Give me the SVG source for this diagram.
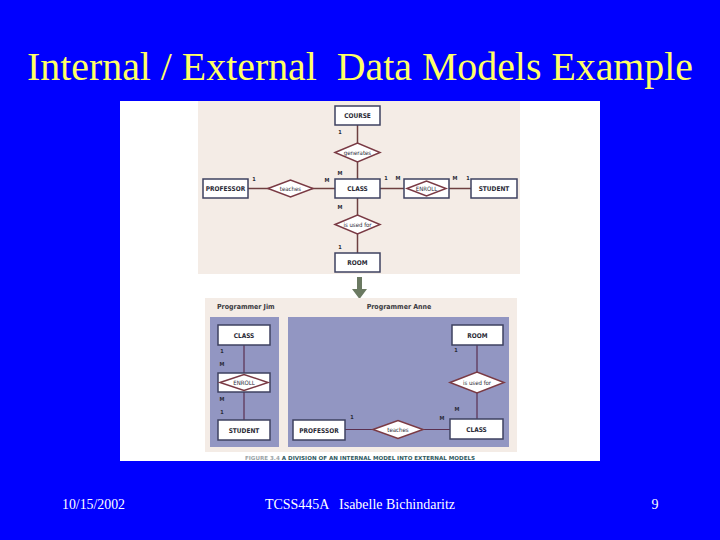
<svg xmlns="http://www.w3.org/2000/svg" width="720" height="540" viewBox="0 0 720 540">
<style>
.title{font-family:"Liberation Serif","Times New Roman",serif;font-size:40px;fill:#ffff66;white-space:pre}
.foot{font-family:"Liberation Serif","Times New Roman",serif;font-size:14px;fill:#ffffff;white-space:pre}
.box{fill:#ffffff;stroke:#3e4160;stroke-width:1.5}
.dia{fill:#ffffff;stroke:#7a3a44;stroke-width:1.5}
.lbl{font-family:"DejaVu Sans Condensed","Liberation Sans",sans-serif;font-weight:bold;font-size:6.5px;fill:#2a2a35;text-anchor:middle}
.dlbl{font-family:"DejaVu Sans Condensed","Liberation Sans",sans-serif;font-size:6px;fill:#2a2a35;text-anchor:middle}
.card{font-family:"DejaVu Sans Condensed","Liberation Sans",sans-serif;font-weight:bold;font-size:5.5px;fill:#2a2a35;text-anchor:middle}
.hdr{font-family:"DejaVu Sans Condensed","Liberation Sans",sans-serif;font-weight:bold;font-size:7px;fill:#3a3a40}
.conn line{stroke:#6e4040;stroke-width:1.5}
.conn2 line{stroke:#5a3050;stroke-width:1.2}
</style>
<rect width="720" height="540" fill="#0000ff"/>
<text class="title" x="27" y="80" textLength="666" lengthAdjust="spacingAndGlyphs" xml:space="preserve">Internal / External  Data Models Example</text>

<rect x="120" y="101" width="480" height="360" fill="#ffffff"/>
<rect x="198" y="101" width="322" height="173" fill="#f4ece6"/>

<g class="conn">
<line x1="357.5" y1="125" x2="357.5" y2="253"/>
<line x1="248" y1="188.5" x2="471" y2="188.5"/>
</g>

<g id="course"><rect class="box" x="335" y="106" width="45" height="19"/><text class="lbl" x="357.5" y="118">COURSE</text></g>
<g id="generates"><polygon class="dia" points="335,152.5 357.5,143 380,152.5 357.5,162"/><text class="dlbl" x="357.5" y="154.5">generates</text></g>
<g id="class"><rect class="box" x="335" y="179" width="45" height="19"/><text class="lbl" x="357.5" y="191">CLASS</text></g>
<g id="professor"><rect class="box" x="203" y="179" width="45" height="19"/><text class="lbl" x="225.5" y="191">PROFESSOR</text></g>
<g id="teaches"><polygon class="dia" points="268,188.5 290.5,180 313,188.5 290.5,197" /><text class="dlbl" x="290.5" y="190.5">teaches</text></g>
<g id="enroll"><rect class="box" x="404" y="179" width="45" height="19"/><polygon class="dia" points="407,188.5 426.5,181 446,188.5 426.5,196"/><text class="dlbl" x="426.5" y="190.5">ENROLL</text></g>
<g id="student"><rect class="box" x="471" y="179" width="46" height="19"/><text class="lbl" x="494" y="191">STUDENT</text></g>
<g id="usedfor"><polygon class="dia" points="335,224.5 357.5,215 380,224.5 357.5,234"/><text class="dlbl" x="357.5" y="226.5">is used for</text></g>
<g id="room"><rect class="box" x="335" y="253" width="45" height="19"/><text class="lbl" x="357.5" y="265">ROOM</text></g>

<g id="cards-top">
<text class="card" x="340" y="134">1</text>
<text class="card" x="340" y="175">M</text>
<text class="card" x="254" y="181">1</text>
<text class="card" x="327" y="182">M</text>
<text class="card" x="386" y="180">1</text>
<text class="card" x="398" y="180">M</text>
<text class="card" x="455" y="180">M</text>
<text class="card" x="468" y="180">1</text>
<text class="card" x="340" y="209">M</text>
<text class="card" x="340" y="249">1</text>
</g>

<g id="arrow"><polygon points="357,277 362,277 362,289 367,289 359.5,299 352,289 357,289" fill="#6b7a62"/></g>

<rect x="205" y="298" width="312" height="154" fill="#f4ece6"/>
<rect x="210" y="317" width="69" height="130" fill="#9296c2"/>
<rect x="288" y="317" width="221" height="130" fill="#9296c2"/>
<text class="hdr" x="217" y="309">Programmer Jim</text>
<text class="hdr" x="399" y="309" text-anchor="middle">Programmer Anne</text>

<g class="conn2">
<line x1="244" y1="345" x2="244" y2="420"/>
<line x1="477" y1="345" x2="477" y2="419"/>
<line x1="345" y1="429.5" x2="450" y2="429.5"/>
</g>

<g id="jim-class"><rect class="box" x="218" y="325" width="52" height="20"/><text class="lbl" x="244" y="337.5">CLASS</text></g>
<g id="jim-enroll"><rect class="box" x="218" y="373" width="52" height="19"/><polygon class="dia" points="220,382.5 244,374.5 268,382.5 244,390.5"/><text class="dlbl" x="244" y="384.5">ENROLL</text></g>
<g id="jim-student"><rect class="box" x="218" y="420" width="52" height="20"/><text class="lbl" x="244" y="432.5">STUDENT</text></g>

<g id="anne-room"><rect class="box" x="452" y="325" width="51" height="20"/><text class="lbl" x="477.5" y="337.5">ROOM</text></g>
<g id="anne-usedfor"><polygon class="dia" points="450,382.5 477,372 504,382.5 477,393"/><text class="dlbl" x="477" y="384.5">is used for</text></g>
<g id="anne-class"><rect class="box" x="450" y="419" width="53" height="20"/><text class="lbl" x="476.5" y="431.5">CLASS</text></g>
<g id="anne-professor"><rect class="box" x="293" y="420" width="52" height="20"/><text class="lbl" x="319" y="432.5">PROFESSOR</text></g>
<g id="anne-teaches"><polygon class="dia" points="373,429.5 398,420.5 423,429.5 398,438.5"/><text class="dlbl" x="398" y="431.5">teaches</text></g>

<g id="cards-bottom">
<text class="card" x="222" y="353">1</text>
<text class="card" x="222" y="366">M</text>
<text class="card" x="222" y="401">M</text>
<text class="card" x="222" y="414">1</text>
<text class="card" x="456" y="352">1</text>
<text class="card" x="457" y="411">M</text>
<text class="card" x="442" y="420">M</text>
<text class="card" x="352" y="419">1</text>
</g>

<text x="245" y="460" textLength="230" lengthAdjust="spacingAndGlyphs" font-family="'DejaVu Sans Condensed','Liberation Sans',sans-serif" font-size="5.5px" font-weight="bold"><tspan fill="#9aa4a8">FIGURE 3.4</tspan><tspan fill="#2f5a62"> A DIVISION OF AN INTERNAL MODEL INTO EXTERNAL MODELS</tspan></text>

<text class="foot" x="62" y="509" textLength="63" lengthAdjust="spacingAndGlyphs">10/15/2002</text>
<text class="foot" x="265" y="509" textLength="190" lengthAdjust="spacingAndGlyphs" xml:space="preserve">TCSS445A   Isabelle Bichindaritz</text>
<text class="foot" x="655" y="509" text-anchor="middle">9</text>
</svg>
